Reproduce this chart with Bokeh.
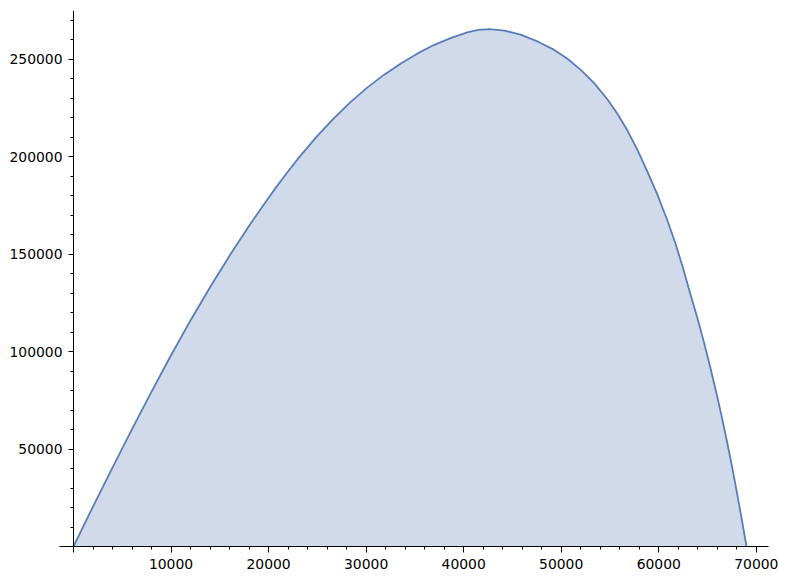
from bokeh.plotting import figure
from bokeh.models import Range1d, SingleIntervalTicker, LinearAxis, BasicTickFormatter
from bokeh.embed import file_html
from bokeh.resources import INLINE

# trajectory
xs = [0, 1743, 3793, 5844, 7894, 9944, 11995, 14045, 16096, 18146, 19427, 20709,
      21991, 23272, 24979, 26686, 28398, 30110, 31817, 33523, 35231, 36937, 38650,
      40361, 41520, 42648, 44186, 45826, 47569, 49240, 50609, 51975, 53346, 54713,
      55740, 56763, 57790, 58813, 59841, 60864, 61715, 62486, 63253, 63937, 64616,
      65305, 65990, 66505, 67015, 67443, 67866, 68432, 68996]
ys = [0, 17900, 38420, 58640, 78440, 97620, 115990, 133430, 149950, 165550, 174880, 183860,
      192430, 200530, 210540, 219670, 227980, 235420, 241960, 247730, 252860, 257270, 260860,
      263780, 265070, 265480, 264710, 262600, 259120, 254910, 250340, 244650, 237830, 229570,
      222180, 213660, 203710, 192630, 180780, 167490, 155440, 142920, 129330, 117580, 105110,
      91490, 76950, 65460, 53350, 42710, 31650, 16130, 0]

x_ticks_interval = 10000
y_ticks_interval = 50000

FONT = "DejaVu Sans"
FS = "13.9px"

p = figure(width=786, height=580,
           x_range=Range1d(-1435, 71250), y_range=Range1d(0, 275000),
           output_backend="svg", toolbar_location=None,
           min_border_left=59, min_border_right=18, min_border_top=10, min_border_bottom=34)
p.outline_line_color = None
p.xgrid.visible = False
p.ygrid.visible = False
p.background_fill_color = "white"
p.border_fill_color = "white"

p.varea(x=xs, y1=[0] * len(xs), y2=ys, fill_color="#d0daea", fill_alpha=1.0)
p.line(xs, ys, line_color="#5a7db9", line_width=1.8, line_join="round")

# x axis (below, at y = 0)
xa = p.xaxis[0]
xa.ticker = SingleIntervalTicker(interval=x_ticks_interval, num_minor_ticks=5)
xa.formatter = BasicTickFormatter(use_scientific=False)
xa.major_label_overrides = {0: ""}
xa.axis_line_color = "black"
xa.axis_line_width = 1
xa.major_tick_line_color = "black"
xa.minor_tick_line_color = "black"
xa.major_tick_in = 0
xa.minor_tick_in = 0
xa.major_tick_out = 6
xa.minor_tick_out = 3
xa.major_label_standoff = 6
xa.major_label_text_font = FONT
xa.major_label_text_font_size = FS
xa.major_label_text_color = "black"

# y labels (left panel)
ya = p.yaxis[0]
ya.ticker = SingleIntervalTicker(interval=y_ticks_interval, num_minor_ticks=5)
ya.formatter = BasicTickFormatter(use_scientific=False)
ya.major_label_overrides = {0: ""}
ya.axis_line_color = None
ya.major_tick_line_color = None
ya.minor_tick_line_color = None
ya.major_tick_in = 0
ya.minor_tick_in = 0
ya.major_tick_out = 0
ya.minor_tick_out = 0
ya.major_label_standoff = -3
ya.major_label_text_font = FONT
ya.major_label_text_font_size = FS
ya.major_label_text_color = "black"

# y axis line and ticks, drawn at x = 0
yline = LinearAxis(ticker=SingleIntervalTicker(interval=y_ticks_interval, num_minor_ticks=5),
                   fixed_location=0,
                   major_label_overrides={v: "" for v in range(0, 300001, y_ticks_interval)},
                   axis_line_color="black", axis_line_width=1,
                   major_tick_line_color="black", minor_tick_line_color="black",
                   major_tick_in=0, minor_tick_in=0, major_tick_out=5, minor_tick_out=3,
                   major_label_standoff=0, major_label_text_font_size="1px")
p.add_layout(yline, "left")

open("out.html", "w").write(file_html(p, INLINE))
